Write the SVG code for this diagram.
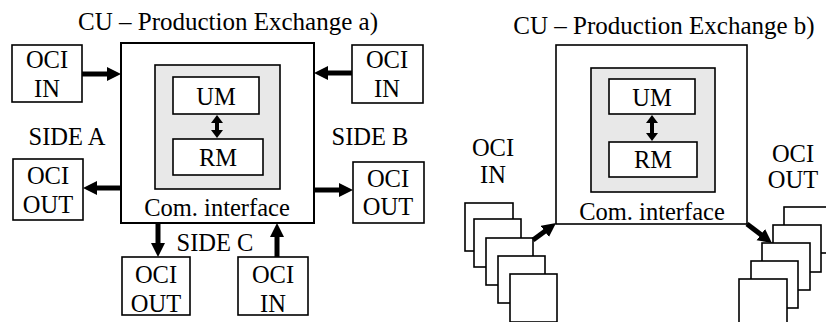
<svg xmlns="http://www.w3.org/2000/svg" width="826" height="322" viewBox="0 0 826 322">
<style>
text{font-family:"Liberation Serif","Times New Roman",Times,serif;font-size:24.5px;fill:#000;text-anchor:middle}
.t{font-size:25px}
.box{fill:#fff;stroke:#000;stroke-width:1.6}
.main{fill:#fff;stroke:#000;stroke-width:2}
.mainb{fill:#fff;stroke:#000;stroke-width:1.6}
.gray{fill:#e8e8e8;stroke:#000;stroke-width:1.6}
.arr{stroke:#000;stroke-width:5;fill:none;marker-end:url(#ah)}
.dbl{stroke:#000;stroke-width:4;fill:none;marker-start:url(#sh);marker-end:url(#sh)}
</style>
<defs>
<marker id="ah" markerUnits="userSpaceOnUse" markerWidth="16" markerHeight="16" refX="4" refY="7" orient="auto"><path d="M0,0 L14,7 L0,14 z" fill="#000"/></marker>
<marker id="sh" markerUnits="userSpaceOnUse" markerWidth="14" markerHeight="14" refX="2" refY="6" orient="auto-start-reverse"><path d="M0,0 L8,6 L0,12 z" fill="#000"/></marker>
</defs>
<rect width="826" height="322" fill="#fff"/>
<text class="t" x="228" y="30">CU – Production Exchange a)</text>
<text class="t" x="664" y="34">CU – Production Exchange b)</text>

<g id="cu-a">
<rect class="main" x="121" y="43" width="193" height="180"/>
<rect class="gray" x="155" y="65" width="125" height="124"/>
<text x="217" y="216">Com. interface</text>
</g>
<g id="um-a"><rect class="box" x="173" y="77" width="86" height="37"/><text x="216" y="105">UM</text></g>
<g id="rm-a"><rect class="box" x="173" y="139" width="90" height="36"/><text x="218" y="166">RM</text></g>

<g id="oci-in-a1"><rect class="box" x="12" y="45" width="70" height="57"/><text x="47" y="68">OCI</text><text x="47" y="97">IN</text></g>
<g id="oci-in-a2"><rect class="box" x="352" y="45" width="71" height="58"/><text x="387" y="68">OCI</text><text x="387" y="97">IN</text></g>
<g id="oci-out-a1"><rect class="box" x="13" y="159" width="70" height="61"/><text x="48" y="184">OCI</text><text x="48" y="213">OUT</text></g>
<g id="oci-out-a2"><rect class="box" x="353" y="162" width="71" height="61"/><text x="388" y="187">OCI</text><text x="388" y="215">OUT</text></g>
<g id="oci-out-a3"><rect class="box" x="122" y="257" width="68" height="58"/><text x="156" y="283">OCI</text><text x="156" y="312">OUT</text></g>
<g id="oci-in-a3"><rect class="box" x="238" y="257" width="70" height="58"/><text x="273" y="283">OCI</text><text x="273" y="312">IN</text></g>

<g id="labels-a">
<text x="67" y="145">SIDE A</text>
<text x="370" y="145">SIDE B</text>
<text x="215" y="251">SIDE C</text>
</g>

<g id="cu-b">
<rect class="mainb" x="556" y="45" width="191" height="179"/>
<rect class="gray" x="591" y="68" width="124" height="124"/>
<text x="652" y="220">Com. interface</text>
</g>
<g id="um-b"><rect class="box" x="609" y="79" width="86" height="35"/><text x="652" y="106">UM</text></g>
<g id="rm-b"><rect class="box" x="609" y="142" width="88" height="35"/><text x="653" y="168">RM</text></g>

<g id="oci-in-b">
<text x="493" y="156">OCI</text><text x="493" y="183">IN</text>
<rect class="box" x="465" y="203" width="48" height="48"/>
<rect class="box" x="474" y="219" width="47" height="48"/>
<rect class="box" x="486" y="238" width="47" height="47"/>
<rect class="box" x="498" y="256" width="47" height="47"/>
<rect class="box" x="510" y="274" width="47" height="48"/>
</g>
<g id="oci-out-b">
<text x="793" y="162">OCI</text><text x="793" y="188">OUT</text>
<rect class="box" x="784" y="207" width="48" height="46"/>
<rect class="box" x="773" y="225" width="48" height="47"/>
<rect class="box" x="762" y="243" width="48" height="47"/>
<rect class="box" x="751" y="261" width="47" height="47"/>
<rect class="box" x="739" y="279" width="48" height="47"/>
</g>

<g id="connectors">
<line class="arr" x1="82" y1="74" x2="111" y2="74"/>
<line class="arr" x1="352" y1="73" x2="324" y2="73"/>
<line class="arr" x1="121" y1="188" x2="93" y2="188"/>
<line class="arr" x1="314" y1="190" x2="343" y2="190"/>
<line class="arr" x1="158" y1="223" x2="158" y2="247"/>
<line class="arr" x1="277" y1="257" x2="277" y2="233"/>
<line class="dbl" x1="217" y1="121" x2="217" y2="132"/>
<line class="dbl" x1="652" y1="121" x2="652" y2="135"/>
<line class="arr" x1="533" y1="240" x2="548" y2="229"/>
<line class="arr" x1="747" y1="224" x2="764" y2="237"/>
</g>
</svg>
